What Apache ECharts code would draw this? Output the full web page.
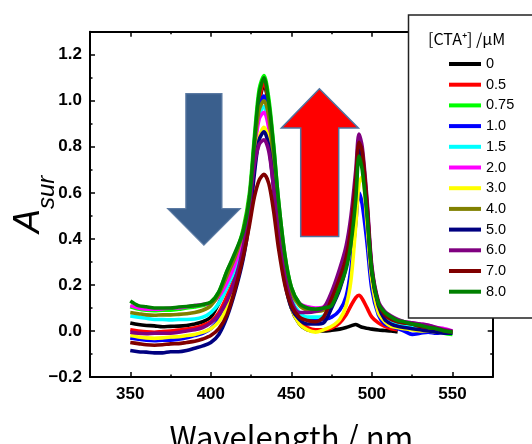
<!DOCTYPE html>
<html><head><meta charset="utf-8">
<script src="https://cdn.jsdelivr.net/npm/echarts@6/dist/echarts.min.js"></script>
<style>html,body{margin:0;padding:0;background:#fff}#c{width:532px;height:444px}</style>
</head><body><div id="c"></div>
<script>
// wavelengths (nm)
const wavelengths = [350,355,360,365,370,375,380,385,390,395,400,405,410,415,420,424,427,430,433,436,439,442,446,450,455,460,465,470,475,480,484,487,490,492,494,497,500,504,508,512,516,520,525,530,535,540,545,550];
const seriesNames = ['0','0.5','0.75','1.0','1.5','2.0','3.0','4.0','5.0','6.0','7.0','8.0'];
const seriesColors = ['#000000','#ff0000','#00ff00','#0000ff','#00ffff','#ff00ff','#ffff00','#808000','#000080','#800080','#800000','#008000'];

const c0 = [0.035,0.028,0.024,0.022,0.018,0.02,0.021,0.024,0.03,0.04, 0.06,0.12,0.19,0.26,0.38,0.56,0.78,0.99, 1.07,0.97,0.74,0.48,0.24,0.10, 0.03,0.005,0.0,0.0,0.003,0.008, 0.015,0.022,0.028,0.022,0.016,0.012,0.008, 0.004,0.002,0.0,-0.004,null,null,null,null,null,null,null];
const c05 = [0.005,0.0,-0.004,-0.006,-0.002,0.0,0.004,0.008,0.014,0.024, 0.04,0.08,0.15,0.23,0.36,0.55,0.78,1.0, 1.08,0.98,0.75,0.49,0.25,0.11, 0.04,0.015,0.005,0.005,0.012,0.035, 0.07,0.11,0.145,0.155,0.14,0.10,0.06, 0.035,0.02,0.01,0.005,null,null,null,null,null,null,null];
const c075 = [0.105,0.095,0.09,0.088,0.09,0.09,0.094,0.10,0.104,0.11, 0.125,0.17,0.26,0.33,0.44,0.60,0.84,1.05, 1.11,1.01,0.81,0.57,0.33,0.19, 0.12,0.10,0.095,0.10,0.13,0.20, 0.29,0.41,0.62,0.80,0.75,0.53,0.27, 0.12,0.06,0.045,0.035,0.03,0.025,0.02,0.012,0.005,-0.01,-0.015];
const c10 = [-0.03,-0.036,-0.04,-0.042,-0.04,-0.04,-0.036,-0.03,-0.02,-0.01, 0.01,0.05,0.12,0.22,0.36,0.54,0.77,0.97, 1.02,0.93,0.72,0.48,0.26,0.14, 0.07,0.05,0.045,0.05,0.06,0.09, 0.15,0.27,0.47,0.60,0.55,0.38,0.18, 0.07,0.03,0.02,0.01,0.0,-0.015,-0.01,-0.005,-0.01,-0.005,-0.01];
const c15 = [0.065,0.06,0.055,0.05,0.05,0.048,0.05,0.05,0.052,0.06, 0.08,0.12,0.19,0.27,0.40,0.57,0.79,0.94, 0.975,0.90,0.70,0.47,0.26,0.14, 0.08,0.06,0.06,0.065,0.12,0.20, 0.29,0.41,0.62,0.79,0.74,0.52,0.26, 0.11,0.06,0.04,0.03,0.025,0.02,0.015,0.01,0.005,0.0,-0.005];
const c20 = [0.11,0.10,0.095,0.094,0.096,0.10,0.10,0.105,0.11,0.115, 0.12,0.15,0.21,0.29,0.41,0.57,0.78,0.92, 0.95,0.88,0.70,0.48,0.29,0.17, 0.12,0.105,0.10,0.105,0.14,0.22, 0.31,0.43,0.64,0.80,0.76,0.54,0.27, 0.12,0.07,0.05,0.045,0.04,0.035,0.03,0.025,0.015,0.01,0.0];
const c30 = [-0.02,-0.026,-0.03,-0.032,-0.03,-0.026,-0.025,-0.02,-0.015,-0.005, 0.01,0.04,0.10,0.19,0.33,0.50,0.70,0.84, 0.885,0.83,0.65,0.42,0.22,0.10, 0.03,0.005,-0.005,0.005,0.02,0.05, 0.11,0.22,0.46,0.64,0.67,0.46,0.22, 0.08,0.04,0.02,0.015,0.01,0.005,0.0,0.0,-0.005,-0.005,-0.01];
const c40 = [0.08,0.075,0.07,0.068,0.07,0.07,0.072,0.075,0.08,0.09, 0.11,0.16,0.24,0.32,0.43,0.58,0.80,0.96, 1.0,0.93,0.73,0.50,0.29,0.17, 0.11,0.09,0.085,0.09,0.13,0.21, 0.30,0.42,0.63,0.80,0.75,0.53,0.26, 0.12,0.065,0.05,0.04,0.035,0.03,0.02,0.015,0.01,0.0,-0.005];
const c50 = [-0.085,-0.09,-0.092,-0.095,-0.095,-0.09,-0.09,-0.085,-0.075,-0.065, -0.05,-0.015,0.06,0.17,0.31,0.48,0.68,0.83, 0.865,0.80,0.62,0.40,0.21,0.10, 0.05,0.03,0.03,0.035,0.10,0.18, 0.28,0.41,0.62,0.79,0.75,0.52,0.25, 0.11,0.05,0.03,0.02,0.015,0.01,0.005,0.0,-0.005,-0.01,-0.01];
const c60 = [-0.005,-0.01,-0.012,-0.01,-0.01,-0.01,-0.006,0.0,0.005,0.015, 0.035,0.07,0.13,0.22,0.36,0.54,0.72,0.81, 0.83,0.78,0.62,0.42,0.24,0.13, 0.08,0.08,0.085,0.10,0.17,0.27, 0.37,0.50,0.70,0.855,0.80,0.57,0.28, 0.13,0.085,0.065,0.05,0.04,0.035,0.03,0.025,0.015,0.005,0.0];
const c70 = [-0.05,-0.055,-0.06,-0.062,-0.06,-0.056,-0.055,-0.05,-0.045,-0.035, -0.02,0.01,0.07,0.18,0.32,0.46,0.58,0.655, 0.68,0.64,0.52,0.36,0.20,0.11, 0.06,0.045,0.04,0.06,0.14,0.23, 0.32,0.45,0.66,0.82,0.78,0.55,0.26, 0.12,0.07,0.05,0.04,0.035,0.03,0.02,0.015,0.01,0.0,-0.005];
const c80 = [0.13,0.11,0.105,0.10,0.10,0.10,0.104,0.106,0.11,0.115, 0.125,0.17,0.26,0.34,0.43,0.58,0.82,1.03, 1.10,0.99,0.80,0.57,0.33,0.19, 0.12,0.10,0.095,0.10,0.11,0.19, 0.27,0.38,0.57,0.76,0.70,0.50,0.26, 0.12,0.08,0.06,0.045,0.04,0.03,0.025,0.015,0.01,0.0,-0.005];
const seriesValues = [c0,c05,c075,c10,c15,c20,c30,c40,c50,c60,c70,c80];

const xRange = [325, 575];
const yRange = [-0.2, 1.3];
const xMajorTicks = [350,400,450,500,550];
const xMinorTicks = [375,425,475,525];
const yMajorTicks = [-0.2,0,0.2,0.4,0.6,0.8,1.0,1.2];
const yMinorTicks = [-0.1,0.1,0.3,0.5,0.7,0.9,1.1];

// annotation arrows (data units: wavelength, absorbance)
const downArrow = [[384.5,1.031],[406.9,1.031],[406.9,0.531],[418.3,0.531],[395.7,0.373],[373.2,0.531],[384.5,0.531]];
const upArrow = [[467.4,1.052],[491.6,0.882],[479.4,0.882],[479.4,0.41],[455.8,0.41],[455.8,0.882],[443.8,0.882]];

const tickFont = {fontFamily:'Liberation Sans', fontWeight:'bold', fontSize:17, color:'#000'};
const frame = {show:true, onZero:false, lineStyle:{color:'#000', width:2}};

function mkX(position, ticks, len, withLabel, withLine){
  return {type:'value', min:xRange[0], max:xRange[1], position:position,
    axisLine: withLine ? frame : {show:false, onZero:false},
    axisTick:{show:true, inside:true, length:len, customValues:ticks, lineStyle:{color:'#000', width:1.5}},
    axisLabel: withLabel ? Object.assign({show:true, margin:9, customValues:ticks, formatter:v=>String(v)}, tickFont) : {show:false},
    splitLine:{show:false}};
}
function mkY(position, ticks, len, withLabel, withLine){
  return {type:'value', min:yRange[0], max:yRange[1], position:position,
    axisLine: withLine ? frame : {show:false, onZero:false},
    axisTick:{show:true, inside:true, length:len, customValues:ticks, lineStyle:{color:'#000', width:1.5}},
    axisLabel: withLabel ? Object.assign({show:true, margin:8, customValues:ticks, formatter:v=>v.toFixed(1).replace('-','\u2212')}, tickFont) : {show:false},
    splitLine:{show:false}};
}

const xAxes = [mkX('bottom', xMajorTicks, 5, true, true), mkX('bottom', xMinorTicks, 2.5, false, false),
               mkX('top', xMajorTicks, 5, false, true), mkX('top', xMinorTicks, 2.5, false, false)];
xAxes[0].name = 'Wavelength / nm';
xAxes[0].nameLocation = 'middle';
xAxes[0].nameGap = 45;
xAxes[0].nameMoveOverlap = false;
xAxes[0].nameTextStyle = {fontFamily:'Noto Sans CJK JP', fontSize:31, color:'#000'};

const yAxes = [mkY('left', yMajorTicks, 5, true, true), mkY('left', yMinorTicks, 2.5, false, false),
               mkY('right', yMajorTicks, 5, false, true), mkY('right', yMinorTicks, 2.5, false, false)];
yAxes[0].name = '{a|A}{s|sur}';
yAxes[0].nameLocation = 'middle';
yAxes[0].nameGap = 39;
yAxes[0].nameRotate = 90;
yAxes[0].nameMoveOverlap = false;
yAxes[0].nameTextStyle = {color:'#000', rich:{
  a:{fontFamily:'Liberation Sans', fontStyle:'italic', fontSize:36, lineHeight:40, verticalAlign:'top', color:'#000'},
  s:{fontFamily:'Liberation Sans', fontStyle:'italic', fontSize:24, lineHeight:24, verticalAlign:'top', padding:[24,0,0,0], color:'#000'}
}};

const chart = echarts.init(document.getElementById('c'), null, {renderer:'canvas'});
chart.setOption({
  animation:false,
  backgroundColor:'#fff',
  grid:{left:90, right:39.3, top:31.7, bottom:67, containLabel:false, outerBoundsMode:'none'},
  xAxis:xAxes,
  yAxis:yAxes,
  title:{text:'[CTA\u207A] /\u03BCM', left:428, top:31, padding:0, z:70,
    textStyle:{fontFamily:'Noto Sans CJK JP', fontSize:16, fontWeight:'normal', color:'#000'}},
  legend:{orient:'vertical', left:444, top:51, itemWidth:32, itemHeight:4, itemGap:4.7, icon:'rect',
    selectedMode:false, z:70, data:seriesNames,
    textStyle:{fontFamily:'Liberation Sans', fontSize:14.5, lineHeight:16, color:'#000'}},
  series: seriesNames.map((n,i)=>({
    name:n, type:'line', xAxisIndex:0, yAxisIndex:0, symbol:'none', smooth:0.3,
    color:seriesColors[i],
    lineStyle:{color:seriesColors[i], width:3.6},
    data: wavelengths.map((w,j)=>[w, seriesValues[i][j]]).filter(d=>d[1]!==null)
  }))
});

const toPx = pts => pts.map(p=>chart.convertToPixel({gridIndex:0}, p));
chart.setOption({
  graphic:[
    {type:'polygon', z:40, shape:{points:toPx(downArrow)}, style:{fill:'#3a5f8d', stroke:'#5b7aa3', lineWidth:1.2}},
    {type:'polygon', z:40, shape:{points:toPx(upArrow)}, style:{fill:'#ff0000', stroke:'#4f73a0', lineWidth:1.5}},
    {type:'rect', z:60, shape:{x:408.5, y:15, width:140, height:303}, style:{fill:'#fff', stroke:'#222', lineWidth:1.5}}
  ]
});
</script></body></html>
